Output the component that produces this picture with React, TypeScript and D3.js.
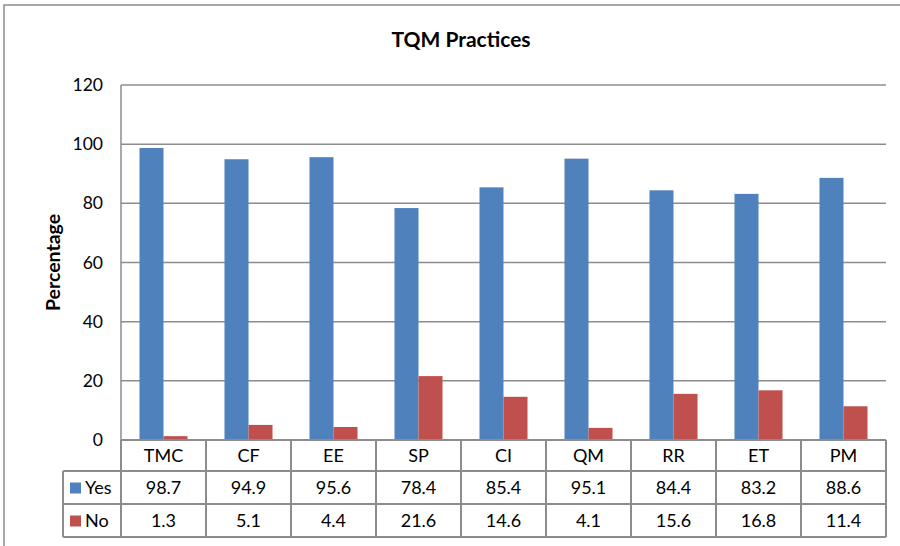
import * as d3 from 'd3'

const categories = ['TMC', 'CF', 'EE', 'SP', 'CI', 'QM', 'RR', 'ET', 'PM']
const yesValues = [98.7, 94.9, 95.6, 78.4, 85.4, 95.1, 84.4, 83.2, 88.6]
const noValues = [1.3, 5.1, 4.4, 21.6, 14.6, 4.1, 15.6, 16.8, 11.4]
const seriesNames = ['Yes', 'No']
const yTicks = [0, 20, 40, 60, 80, 100, 120]

const colors: Record<string, string> = { Yes: '#4F81BD', No: '#C0504D' }
const gridColor = '#8c8c8c'
const font = 'Lato, "Open Sans", sans-serif'

const W = 900
const H = 546
const plot = { left: 121, right: 886, top: 85, bottom: 440 }
const legendLeft = 63
const rowBounds = [440, 471, 504, 537]

const App = () => {
  const x = d3.scaleBand<string>().domain(categories).range([plot.left, plot.right]).paddingInner(0).paddingOuter(0)
  const x1 = d3.scaleBand<string>().domain(seriesNames).range([0, x.bandwidth()]).paddingInner(0).paddingOuter(0.77)
  const y = d3.scaleLinear().domain([0, 120]).range([plot.bottom, plot.top])

  const series = [
    { name: 'Yes', values: yesValues },
    { name: 'No', values: noValues },
  ]

  return (
    <svg width={W} height={H} style={{ position: 'absolute', left: 0, top: 0, background: '#fff' }}>
      {/* outer chart border */}
      <rect x={4} y={5} width={W + 10} height={H + 10} fill="none" stroke={gridColor} strokeWidth={1.5} />

      <text x={461} y={47} textAnchor="middle" fontFamily={font} fontWeight="bold" fontSize={21} fill="#000">
        TQM Practices
      </text>

      <text
        transform={`translate(60,${(plot.top + plot.bottom) / 2}) rotate(-90)`}
        textAnchor="middle"
        fontFamily={font}
        fontWeight="bold"
        fontSize={19.5}
        fill="#000"
      >
        Percentage
      </text>

      {/* gridlines */}
      {yTicks.filter(t => t > 0).map(t => (
        <line key={t} x1={plot.left} x2={plot.right} y1={y(t)} y2={y(t)} stroke={gridColor} strokeWidth={1.5} />
      ))}
      <line x1={plot.left} x2={plot.left} y1={plot.top} y2={plot.bottom} stroke={gridColor} strokeWidth={1.5} />

      {yTicks.map(t => (
        <text key={t} x={103} y={y(t)} dy="0.35em" textAnchor="end" fontFamily={font} fontSize={17.5} fill="#000">
          {t}
        </text>
      ))}

      {/* bars */}
      {series.map(s => (
        <g key={s.name}>
          {categories.map((c, i) => (
            <rect
              key={c}
              x={(x(c) ?? 0) + (x1(s.name) ?? 0)}
              y={y(s.values[i])}
              width={x1.bandwidth()}
              height={y(0) - y(s.values[i])}
              fill={colors[s.name]}
            />
          ))}
        </g>
      ))}

      {/* data table */}
      <g stroke={gridColor} strokeWidth={2} fill="none">
        <line x1={plot.left} x2={plot.right} y1={rowBounds[0]} y2={rowBounds[0]} />
        {rowBounds.slice(1).map(r => (
          <line key={r} x1={legendLeft} x2={plot.right} y1={r} y2={r} />
        ))}
        <line x1={legendLeft} x2={legendLeft} y1={rowBounds[1]} y2={rowBounds[3]} />
        {categories.map(c => (
          <line key={c} x1={x(c)} x2={x(c)} y1={rowBounds[0]} y2={rowBounds[3]} />
        ))}
        <line x1={plot.right} x2={plot.right} y1={rowBounds[0]} y2={rowBounds[3]} />
      </g>

      {categories.map(c => (
        <text
          key={c}
          x={(x(c) ?? 0) + x.bandwidth() / 2}
          y={(rowBounds[0] + rowBounds[1]) / 2}
          dy="0.36em"
          textAnchor="middle"
          fontFamily={font}
          fontSize={18}
          fill="#000"
        >
          {c}
        </text>
      ))}

      {series.map((s, si) => {
        const cy = (rowBounds[si + 1] + rowBounds[si + 2]) / 2
        return (
          <g key={s.name}>
            <rect x={70} y={cy - 5} width={11} height={11} fill={colors[s.name]} />
            <text x={85} y={cy} dy="0.36em" fontFamily={font} fontSize={18} fill="#000">
              {s.name}
            </text>
            {categories.map((c, i) => (
              <text
                key={c}
                x={(x(c) ?? 0) + x.bandwidth() / 2}
                y={cy}
                dy="0.36em"
                textAnchor="middle"
                fontFamily={font}
                fontSize={18}
                fill="#000"
              >
                {s.values[i]}
              </text>
            ))}
          </g>
        )
      })}
    </svg>
  )
}

export default App
